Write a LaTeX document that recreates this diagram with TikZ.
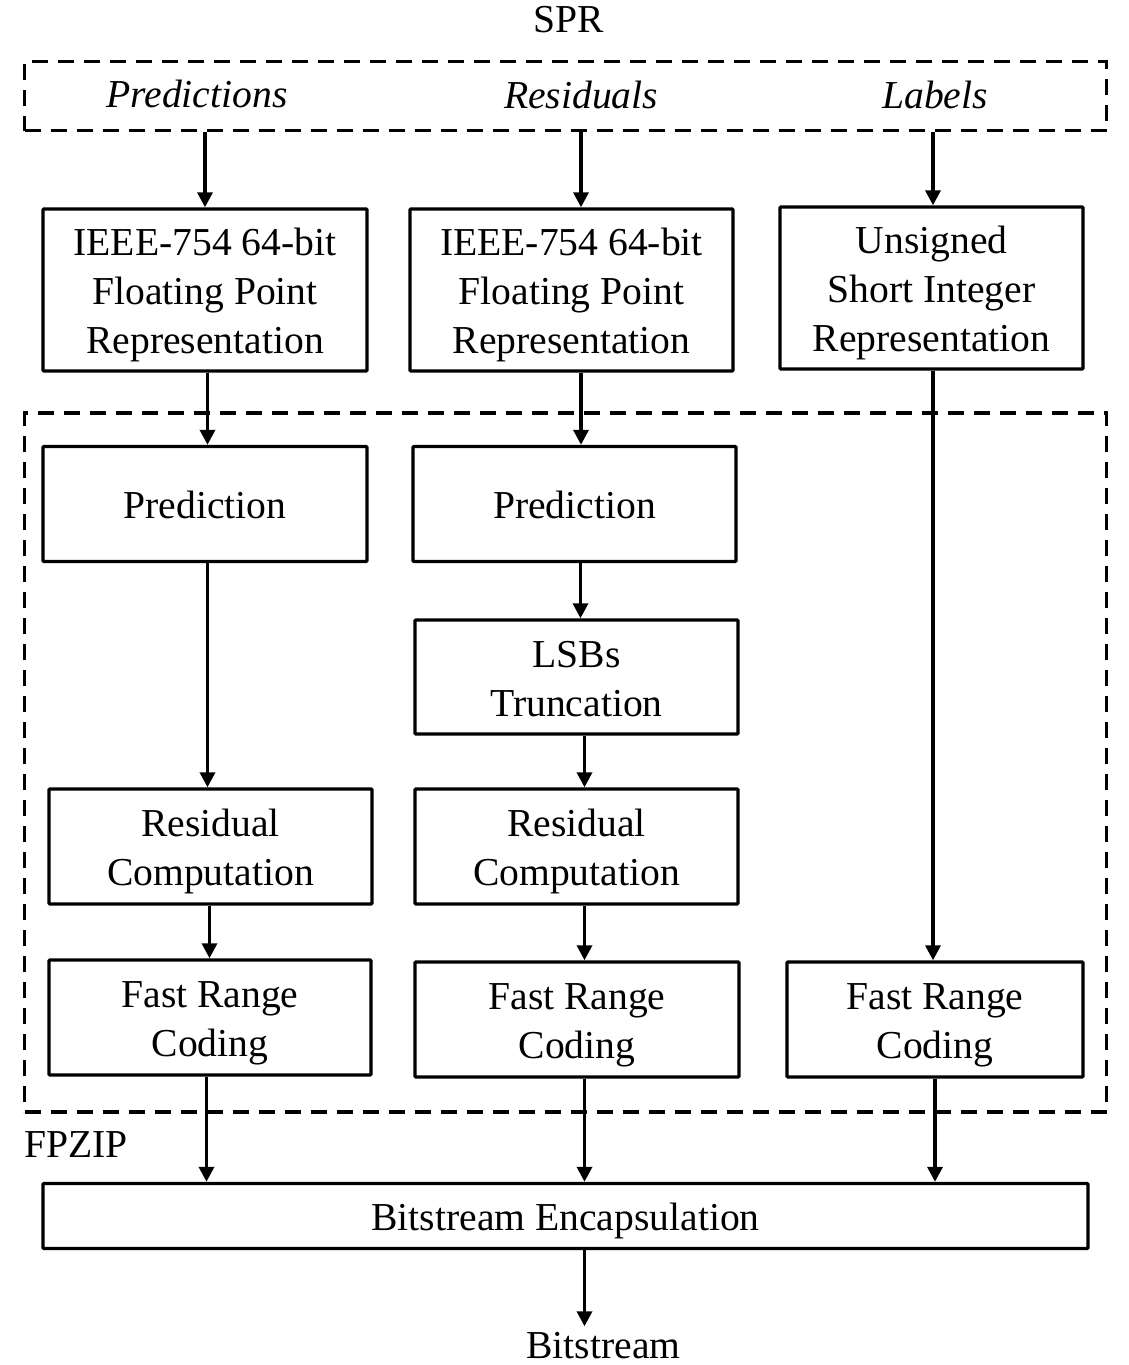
\documentclass[tikz,border=0pt]{standalone}
\usepackage{fontspec}
\setmainfont{Liberation Serif}
\usetikzlibrary{arrows.meta}
\newcommand{\boxtext}[1]{\rule{0pt}{19.5pt}#1\rule[-5pt]{0pt}{5pt}}
\tikzset{
    block/.style={draw, line width=1.7pt, align=center, inner sep=0pt, font=\fontsize{19.8}{24.5}\selectfont, rounded corners=0.5pt},
    group/.style={draw, line width=1.7pt, dash pattern=on 8pt off 5pt, inner sep=0pt},
    caption/.style={inner sep=0pt, font=\fontsize{19.8}{24.5}\selectfont},
    inlabel/.style={caption, font=\fontsize{19.8}{24.5}\selectfont\itshape},
    flow/.style={-{Triangle[width=7.5pt,length=7.5pt]}, line width=1.7pt},
    box/.style args={#1x#2}{block, minimum width=#1*0.5pt, minimum height=#2*0.5pt}
}
\begin{document}
\begin{tikzpicture}[x=0.5pt,y=-0.5pt]
   \useasboundingbox (0,0) rectangle (1129,1365);
   % input side
   \node[caption] (spr) at (569,19.5) {SPR};
   \node[group, minimum width=541pt, minimum height=34.5pt] (input) at (565.5,96) {};
   \node[inlabel] (pred_in) at (197,93.5) {Predictions};
   \node[inlabel] (res_in) at (581,95) {Residuals};
   \node[inlabel] (lab_in) at (935,95) {Labels};
   \node[box=324x162] (ieee_a) at (205,290) {\boxtext{IEEE-754 64-bit\\Floating Point\\Representation}};
   \node[box=323x162] (ieee_b) at (571.5,290) {\boxtext{IEEE-754 64-bit\\Floating Point\\Representation}};
   \node[box=303x162] (ushort) at (931.5,288) {\boxtext{Unsigned\\Short Integer\\Representation}};
   % codec
   \node[group, minimum width=541pt, minimum height=349.5pt] (fpzip) at (565.5,762.5) {};
   \node[caption] (fpzip_lab) at (76,1145) {FPZIP};
   \node[box=324x115] (pred_a) at (205,504) {\boxtext{Prediction}};
   \node[box=323x115] (pred_b) at (574.5,504) {\boxtext{Prediction}};
   \node[box=323x114] (lsb) at (576.5,677) {\boxtext{LSBs\\Truncation}};
   \node[box=323x115] (resid_a) at (210.5,846.5) {\boxtext{Residual\\Computation}};
   \node[box=323x115] (resid_b) at (576.5,846.5) {\boxtext{Residual\\Computation}};
   \node[box=322x115] (frc_a) at (210,1017.5) {\boxtext{Fast Range\\Coding}};
   \node[box=324x115] (frc_b) at (577,1019.5) {\boxtext{Fast Range\\Coding}};
   \node[box=296x115] (frc_c) at (935,1019.5) {\boxtext{Fast Range\\Coding}};
   % output
   \node[box=1045x65] (encap) at (565.5,1216) {\boxtext{Bitstream Encapsulation}};
   \node[caption] (out) at (603.5,1346) {Bitstream};

   \draw[flow] (input.south -| ieee_a) -- (ieee_a.north);
   \draw[flow] ([xshift=4.75pt]ieee_b.north |- input.south) -- ([xshift=4.75pt]ieee_b.north);
   \draw[flow] ([xshift=0.75pt]ushort.north |- input.south) -- ([xshift=0.75pt]ushort.north);
   \draw[flow] ([xshift=1.25pt]ieee_a.south) -- ([xshift=1.25pt]ieee_a.south |- pred_a.north);
   \draw[flow] ([xshift=4.75pt]ieee_b.south) -- ([xshift=4.75pt]ieee_b.south |- pred_b.north);
   \draw[flow] ([xshift=0.75pt]ushort.south) -- ([xshift=0.75pt]ushort.south |- frc_c.north);
   \draw[flow] ([xshift=1.25pt]pred_a.south) -- ([xshift=1.25pt]pred_a.south |- resid_a.north);
   \draw[flow] ([xshift=3pt]pred_b.south) -- ([xshift=3pt]pred_b.south |- lsb.north);
   \draw[flow] ([xshift=4pt]lsb.south) -- ([xshift=4pt]lsb.south |- resid_b.north);
   \draw[flow] ([xshift=-0.5pt]resid_a.south) -- ([xshift=-0.5pt]resid_a.south |- frc_a.north);
   \draw[flow] ([xshift=4pt]resid_b.south) -- ([xshift=4pt]resid_b.south |- frc_b.north);
   \draw[flow] ([xshift=-1.75pt]frc_a.south) -- ([xshift=-1.75pt]frc_a.south |- encap.north);
   \draw[flow] ([xshift=3.75pt]frc_b.south) -- ([xshift=3.75pt]frc_b.south |- encap.north);
   \draw[flow] (frc_c.south) -- (frc_c.south |- encap.north);
   \draw[flow, shorten >=3pt] ([xshift=9.5pt]encap.south) -- ([xshift=9.5pt]encap.south |- out.north);
\end{tikzpicture}
\end{document}
